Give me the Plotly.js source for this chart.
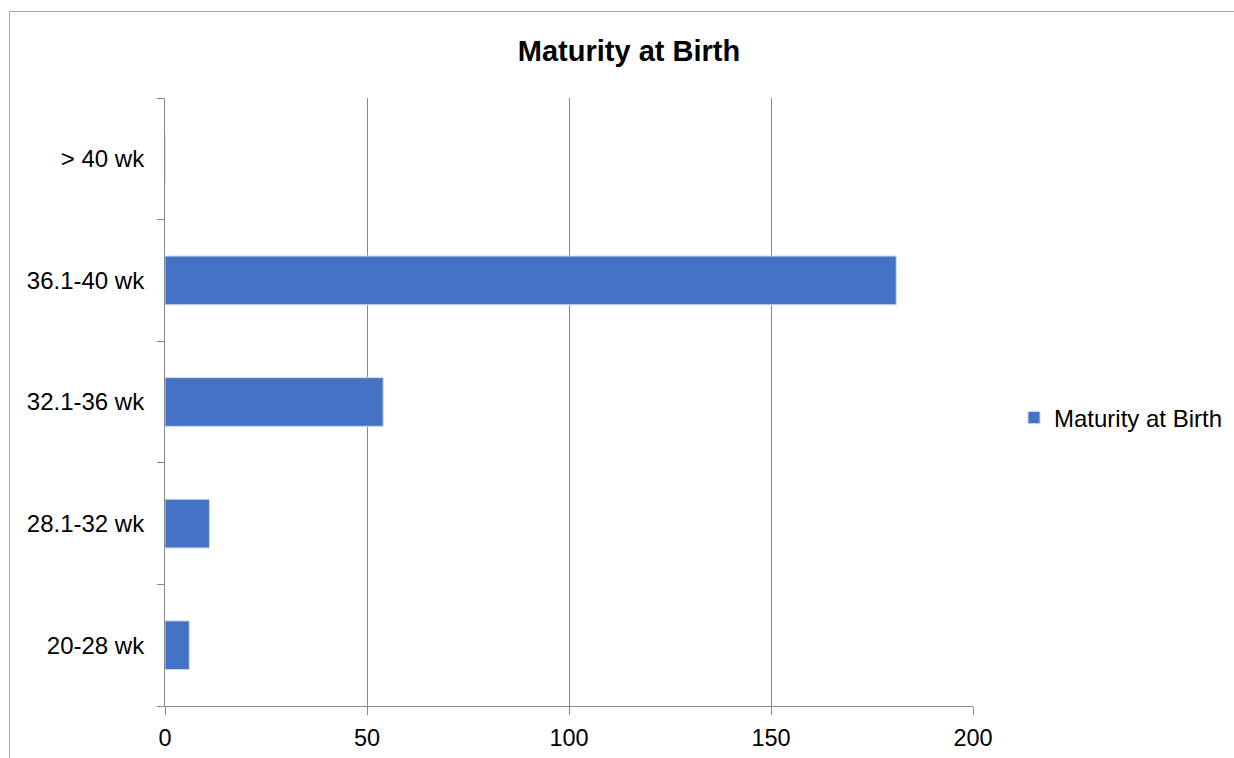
<!DOCTYPE html>
<html>
<head>
<meta charset="utf-8">
<script src="https://cdn.plot.ly/plotly-3.0.1.min.js"></script>
<style>
  html, body { margin: 0; padding: 0; background: #fff; }
  #chart { width: 1234px; height: 758px; }
  #frame { position: absolute; left: 9px; top: 11px; width: 1400px; height: 900px; border: 1px solid #a6a6a6; pointer-events: none; }
</style>
</head>
<body>
<div id="chart"></div>
<div id="frame"></div>
<script>
const categories = ['20-28 wk', '28.1-32 wk', '32.1-36 wk', '36.1-40 wk', '> 40 wk'];
const values = [6, 11, 54, 181, 0];
const seriesName = 'Maturity at Birth';
const xTicks = [0, 50, 100, 150, 200];

const trace = {
  type: 'bar',
  orientation: 'h',
  y: categories,
  x: values,
  name: seriesName,
  marker: { color: '#4472C4', line: { color: '#c9d6ee', width: 1 } },
  showlegend: true,
  hoverinfo: 'x+y'
};

const layout = {
  width: 1234,
  height: 758,
  margin: { l: 165, r: 261, t: 98, b: 52 },
  paper_bgcolor: '#ffffff',
  plot_bgcolor: '#ffffff',
  font: { family: 'Liberation Sans, Arial, sans-serif', size: 24, color: '#000' },
  title: {
    text: '<b>Maturity at Birth</b>',
    font: { family: 'Liberation Sans, Arial, sans-serif', size: 29, color: '#000' },
    x: 629 / 1234, xref: 'container', xanchor: 'center',
    y: 1 - 51 / 758, yref: 'container', yanchor: 'middle'
  },
  bargap: 0.6,
  xaxis: {
    range: [0, 200],
    tickvals: xTicks,
    ticktext: xTicks.map(String),
    showgrid: true,
    gridcolor: '#888888',
    gridwidth: 1,
    zeroline: false,
    showline: true,
    linecolor: '#888888',
    linewidth: 1,
    ticks: 'outside',
    ticklen: 8,
    tickcolor: '#888888',
    ticklabelstandoff: 3,
    tickfont: { size: 23.5, color: '#000' },
    fixedrange: true
  },
  yaxis: {
    type: 'category',
    categoryorder: 'array',
    categoryarray: categories,
    showgrid: false,
    zeroline: false,
    showline: true,
    linecolor: '#888888',
    linewidth: 1,
    ticks: 'outside',
    tickson: 'boundaries',
    ticklen: 7,
    tickcolor: '#888888',
    ticklabelstandoff: 15,
    tickfont: { size: 24, color: '#000' },
    fixedrange: true
  },
  legend: {
    x: 1014 / 1234, xref: 'container',
    y: (706 - 418) / 608, yanchor: 'middle',
    xanchor: 'left',
    font: { size: 24, color: '#000' },
    bgcolor: 'rgba(0,0,0,0)',
    itemwidth: 30
  },
  showlegend: true
};

Plotly.newPlot('chart', [trace], layout, { displayModeBar: false, staticPlot: true });
</script>
</body>
</html>
